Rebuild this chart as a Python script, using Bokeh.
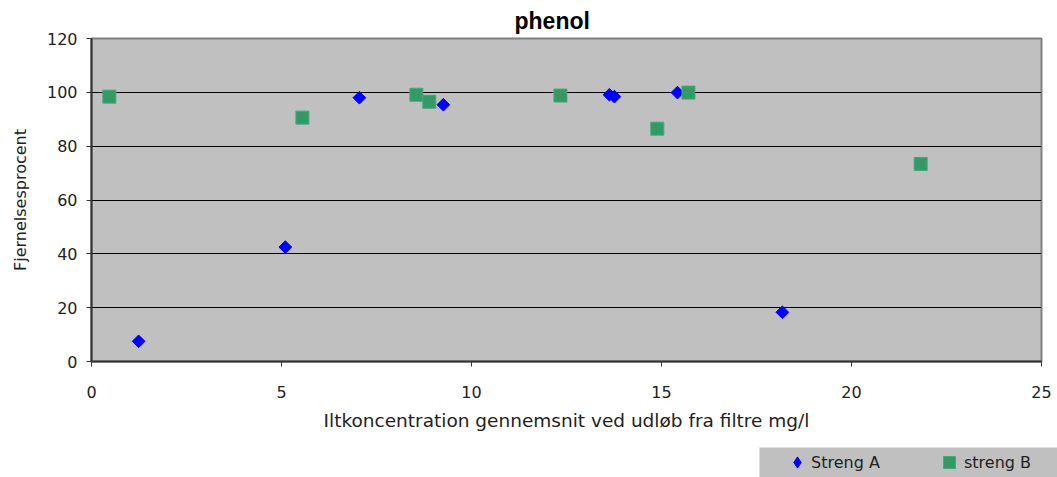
import numpy as np
from bokeh.plotting import figure
from bokeh.layouts import column
from bokeh.models import Range1d, Legend, LegendItem, FixedTicker
from bokeh.embed import file_html
from bokeh.resources import INLINE

# Data
a_x = [1.24, 5.1, 7.05, 9.26, 13.63, 13.76, 15.42, 18.18]
a_y = [7.5, 42.5, 98.0, 95.4, 99.1, 98.4, 99.9, 18.3]
b_x = [0.47, 5.55, 8.55, 8.89, 12.34, 14.89, 15.71, 21.82]
b_y = [98.4, 90.6, 99.1, 96.5, 98.8, 86.5, 99.9, 73.4]
x_ticks = [0, 5, 10, 15, 20, 25]
y_ticks = [0, 20, 40, 60, 80, 100, 120]
series_names = ["Streng A", "streng B"]

BLUE = "#0000ff"
GREEN = "#339966"
GREEN_EDGE = "#4aa77a"
TXT = "#222222"

p = figure(width=1057, height=447, output_backend="svg", toolbar_location=None,
           x_range=Range1d(0, 25), y_range=Range1d(0, 120),
           min_border_left=91, min_border_right=16, min_border_top=38, min_border_bottom=86,
           title="phenol")
p.frame_align = False
p.background_fill_color = "#c0c0c0"
p.border_fill_color = "white"
p.outline_line_color = "#808080"
p.outline_line_width = 2

p.title.align = "left"
p.title.offset = 423
p.title.text_font = "Liberation Sans"
p.title.text_font_size = "23px"
p.title.text_font_style = "bold"
p.title.text_color = "black"

p.xgrid.grid_line_color = None
p.ygrid.grid_line_color = "black"
p.ygrid.grid_line_width = 1

p.xaxis.ticker = FixedTicker(ticks=x_ticks)
p.yaxis.ticker = FixedTicker(ticks=y_ticks)
for ax in (p.xaxis[0], p.yaxis[0]):
    ax.major_tick_in = 0
    ax.major_tick_out = 5
    ax.minor_tick_in = 0
    ax.minor_tick_out = 0
    ax.major_label_text_font = "DejaVu Sans"
    ax.major_label_text_font_size = "16px"
    ax.major_label_text_color = TXT
    ax.axis_label_text_font = "DejaVu Sans"
    ax.axis_label_text_font_size = "16px"
    ax.axis_label_text_font_style = "normal"
    ax.axis_label_text_color = TXT
    ax.axis_line_color = "#333333"
    ax.major_tick_line_color = "#333333"
    ax.axis_line_width = 2

p.xaxis.axis_label = "Iltkoncentration gennemsnit ved udløb fra filtre mg/l"
p.xaxis.axis_label_text_font_size = "18.5px"
p.yaxis.axis_label = "Fjernelsesprocent"
p.xaxis.major_label_standoff = 19
p.xaxis.axis_label_standoff = 9
p.yaxis.major_label_standoff = 9
p.yaxis.axis_label_standoff = 14

p.scatter(a_x, a_y, marker="square", angle=np.pi / 4, size=9,
          fill_color=BLUE, line_color=BLUE)
p.scatter(b_x, b_y, marker="square", size=13,
          fill_color=GREEN, line_color=GREEN_EDGE)

# Legend strip below the chart (its own renderers lie outside its view)
p2 = figure(width=1057, height=30, output_backend="svg", toolbar_location=None,
            x_range=Range1d(0, 1), y_range=Range1d(-2, -1),
            min_border_left=759, min_border_right=0, min_border_top=0, min_border_bottom=0)
p2.frame_align = False
p2.axis.visible = False
p2.grid.visible = False
p2.outline_line_color = None
p2.background_fill_color = "#c0c0c0"
p2.border_fill_color = "white"
la = p2.scatter(a_x, a_y, marker="diamond", fill_color=BLUE, line_color=BLUE)
lb = p2.scatter(b_x, b_y, marker="square", fill_color=GREEN, line_color=GREEN_EDGE)

def make_legend(name, r, loc, glyph, standoff):
    lg = Legend(items=[LegendItem(label=name, renderers=[r])], location=loc)
    lg.margin = 0
    lg.padding = 0
    lg.glyph_width = glyph
    lg.glyph_height = glyph
    lg.label_standoff = standoff
    lg.background_fill_alpha = 0
    lg.border_line_color = None
    lg.label_text_font = "DejaVu Sans"
    lg.label_text_font_size = "16px"
    lg.label_text_color = TXT
    return lg

p2.add_layout(make_legend(series_names[0], la, (24, 1), 28, -1), "center")
p2.add_layout(make_legend(series_names[1], lb, (175, 0), 30, -4), "center")

layout = column(p, p2, spacing=0)
open("out.html", "w").write(file_html(layout, INLINE))
